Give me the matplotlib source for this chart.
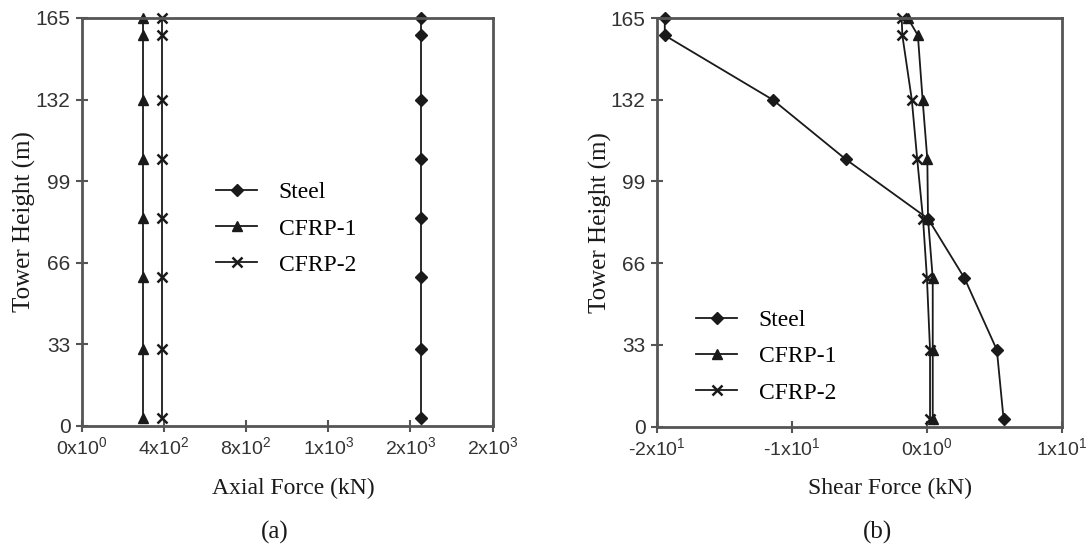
import matplotlib
matplotlib.use('Agg')
import matplotlib.pyplot as plt

# tower heights (m) where forces were taken
height = [3, 31, 60, 84, 108, 132, 158, 165]

# axial force (kN)
axial_steel = [1650, 1650, 1650, 1650, 1650, 1650, 1650, 1650]
axial_cfrp1 = [300, 300, 300, 300, 300, 300, 300, 300]
axial_cfrp2 = [390, 390, 390, 390, 390, 390, 390, 390]

# shear force (kN)
shear_steel = [5.7, 5.2, 2.8, 0.1, -6.0, -11.4, -19.4, -19.4]
shear_cfrp1 = [0.45, 0.45, 0.45, 0.1, 0.05, -0.3, -0.65, -1.4]
shear_cfrp2 = [0.25, 0.25, 0.02, -0.27, -0.7, -1.1, -1.8, -1.85]

yticks = [0, 33, 66, 99, 132, 165]
axial_ticks = [0, 400, 800, 1200, 1600, 2000]
axial_labels = ['0x10$^\\mathregular{0}$', '4x10$^\\mathregular{2}$', '8x10$^\\mathregular{2}$',
                '1x10$^\\mathregular{3}$', '2x10$^\\mathregular{3}$', '2x10$^\\mathregular{3}$']
shear_ticks = [-20, -10, 0, 10]
shear_labels = ['-2x10$^\\mathregular{1}$', '-1x10$^\\mathregular{1}$',
                '0x10$^\\mathregular{0}$', '1x10$^\\mathregular{1}$']

serif = 'Liberation Serif'
sans = 'Liberation Sans'
plt.rcParams['mathtext.fontset'] = 'custom'
plt.rcParams['mathtext.rm'] = sans

fig = plt.figure(figsize=(10.91, 5.5), dpi=100)
ax1 = fig.add_axes([0.0749, 0.226, 0.3767, 0.7413])
ax2 = fig.add_axes([0.6019, 0.2242, 0.3712, 0.743])

ink = '#1a1a1a'
frame = '#555555'


def draw(ax, steel, c1, c2):
    ax.plot(steel, height, color=ink, lw=1.3, marker='D', ms=6, label='Steel', clip_on=False)
    ax.plot(c1, height, color=ink, lw=1.3, marker='^', ms=6.5, label='CFRP-1', clip_on=False)
    ax.plot(c2, height, color=ink, lw=1.3, marker='x', ms=7, mew=1.8, label='CFRP-2', clip_on=False)
    ax.set_ylim(0, 165)
    ax.set_yticks(yticks)
    ax.set_ylabel('Tower Height (m)', family=serif, fontsize=18, color=ink)
    for s in ax.spines.values():
        s.set_color(frame)
        s.set_linewidth(2)
    ax.tick_params(direction='inout', length=9, width=1.5, color=frame,
                   labelsize=14, labelcolor='#333333')
    ax.tick_params(axis='y', labelsize=15)
    for t in ax.get_yticklabels():
        t.set_family(sans)


draw(ax1, axial_steel, axial_cfrp1, axial_cfrp2)
ax1.set_xlim(0, 2000)
ax1.set_xticks(axial_ticks)
ax1.set_xticklabels(axial_labels, family=sans)
ax1.yaxis.set_label_coords(-0.111, 0.5)
ax1.legend(loc='upper left', bbox_to_anchor=(0.298, 0.627), frameon=False, borderpad=0,
           handlelength=1.75, handletextpad=0.9, labelspacing=0.62,
           prop={'family': serif, 'size': 17})

draw(ax2, shear_steel, shear_cfrp1, shear_cfrp2)
ax2.set_xlim(-20, 10)
ax2.set_xticks(shear_ticks)
ax2.set_xticklabels(shear_labels, family=sans)
ax2.yaxis.set_label_coords(-0.110, 0.5)
ax2.legend(loc='upper left', bbox_to_anchor=(0.068, 0.315), frameon=False, borderpad=0,
           handlelength=1.75, handletextpad=0.9, labelspacing=0.62,
           prop={'family': serif, 'size': 17})

fig.text(293 / 1091, 1 - 488 / 550, 'Axial Force (kN)', family=serif, fontsize=17,
         color=ink, ha='center', va='center')
fig.text(890 / 1091, 1 - 488 / 550, 'Shear Force (kN)', family=serif, fontsize=17,
         color=ink, ha='center', va='center')
fig.text(275 / 1091, 1 - 532 / 550, '(a)', family=serif, fontsize=18,
         color=ink, ha='center', va='center')
fig.text(877 / 1091, 1 - 532 / 550, '(b)', family=serif, fontsize=18,
         color=ink, ha='center', va='center')

fig.savefig('out.png', dpi=100)
